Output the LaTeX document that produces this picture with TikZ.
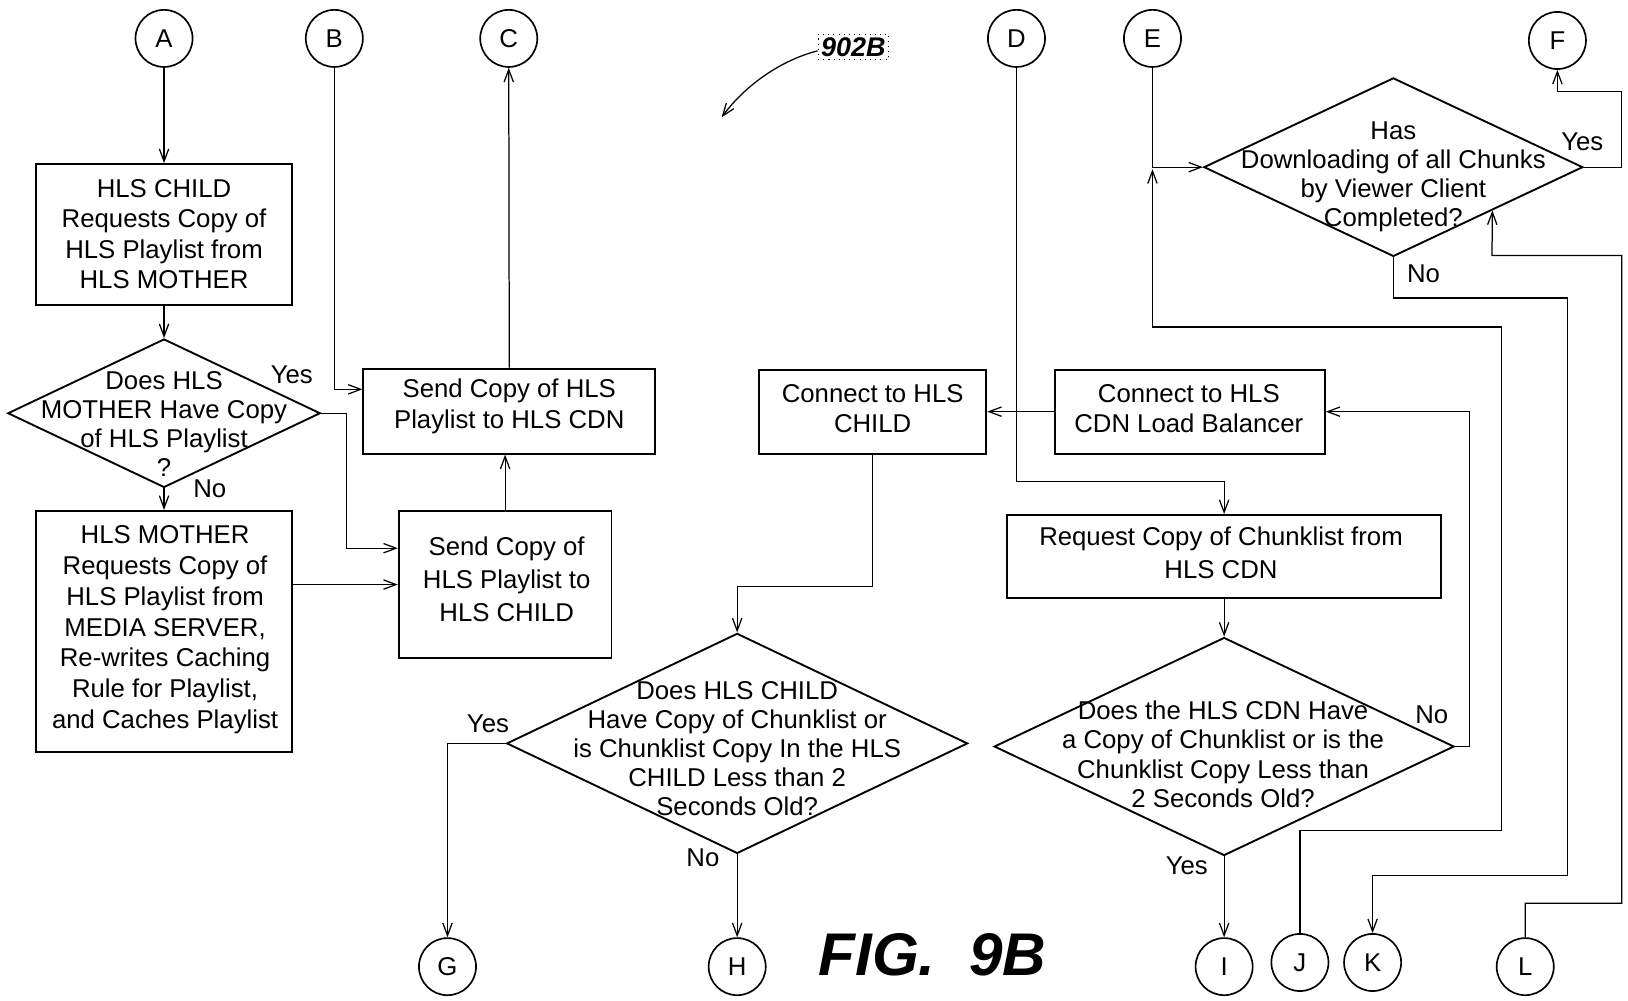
\documentclass[tikz,border=0pt]{standalone}
\usepackage{fontspec}
\setmainfont{Liberation Sans}
\usetikzlibrary{arrows.meta,fit,calc,shapes.geometric}
\begin{document}
\begin{tikzpicture}[x=0.5pt,y=-0.5pt,
  every node/.style={font=\fontsize{12.4}{14.6}\selectfont},
  box/.style={draw,line width=0.9pt,inner sep=0pt},
  btext/.style={align=center,inner sep=0pt},
  dia/.style={draw,diamond,line width=0.9pt,inner sep=0pt},
  dtext/.style={align=center,inner sep=0pt,font=\fontsize{12.4}{14}\selectfont},
  conn/.style={draw,circle,line width=0.8pt,minimum size=27.5pt,inner sep=0pt},
  arr/.style={line width=0.6pt,-{Straight Barb[length=6pt,width=4.5pt]}},
  lab/.style={inner sep=0pt}
]
\useasboundingbox (0,0) rectangle (1568,964);

% connectors (circles)
\node[conn] (A) at (158,37) {A};
\node[conn] (B) at (322,37) {B};
\node[conn] (C) at (490,37) {C};
\node[conn] (D) at (979,37) {D};
\node[conn] (E) at (1110,37) {E};
\node[conn] (F) at (1500,39) {F};
\node[conn] (G) at (431,931) {G};
\node[conn] (H) at (710,931) {H};
\node[conn] (I) at (1179,931) {I};
\node[conn] (J) at (1252,927) {J};
\node[conn] (K) at (1322,927) {K};
\node[conn] (L) at (1469,931) {L};

% boxes
\node[box,fit={(35,158)(281,294)}] (b1) {};
\node[btext,font=\fontsize{12.4}{14.5}\selectfont] (b1t) at (158,225.5) {HLS CHILD\\Requests Copy of\\HLS Playlist from\\HLS MOTHER};
\node[box,fit={(35,492)(281,724)}] (mother) {};
\node[btext,font=\fontsize{12.4}{14.9}\selectfont] (mothert) at (159,606.5) {HLS MOTHER\\Requests Copy of\\HLS Playlist from\\MEDIA SERVER,\\Re-writes Caching\\Rule for Playlist,\\and Caches Playlist};
\node[box,fit={(350,355)(631,437)}] (scdn) {};
\node[btext] (scdnt) at (490.5,391.5) {Send Copy of HLS\\Playlist to HLS CDN};
\node[box,fit={(384,492)(589,634)}] (schild) {};
\node[btext,font=\fontsize{12.4}{16}\selectfont] (schildt) at (488,558) {Send Copy of\\HLS Playlist to\\HLS CHILD};
\node[box,fit={(731,356)(950,437)}] (cchild) {};
\node[btext] (cchildt) at (840.5,393.5) {Connect to HLS\\CHILD};
\node[box,fit={(1016,356)(1276,437)}] (clb) {};
\node[btext] (clbt) at (1145,393.5) {Connect to HLS\\CDN Load Balancer};
\node[box,fit={(970,496)(1388,576)}] (req) {};
\node[btext,font=\fontsize{12.4}{15.5}\selectfont] (reqt) at (1176,532.5) {Request Copy of Chunklist from\\HLS CDN};

% diamonds
\node[dia,minimum width=150.5pt,minimum height=71.5pt] (d1) at (158,398) {};
\node[dtext] (d1t) at (158,408.5) {Does HLS\\MOTHER Have Copy\\of HLS Playlist\\?};
\node[dia,minimum width=222pt,minimum height=106pt] (d2) at (710,716) {};
\node[dtext] (d2t) at (710,721) {Does HLS CHILD\\Have Copy of Chunklist or\\is Chunklist Copy In the HLS\\CHILD Less than 2\\Seconds Old?};
\node[dia,minimum width=221.5pt,minimum height=105pt] (d3) at (1179,719) {};
\node[dtext] (d3t) at (1178,726.5) {Does the HLS CDN Have\\a Copy of Chunklist or is the\\Chunklist Copy Less than\\2 Seconds Old?};
\node[dia,minimum width=182.5pt,minimum height=86pt] (d4) at (1342,161) {};
\node[dtext] (d4t) at (1342,170.5) {Has\\Downloading of all Chunks\\by Viewer Client\\Completed?};

% yes/no labels
\node[lab] (y1) at (281,361) {Yes};
\node[lab] (n1) at (202,471) {No};
\node[lab] (y2) at (470,697) {Yes};
\node[lab] (n2) at (677,826) {No};
\node[lab] (n3) at (1379,688) {No};
\node[lab] (y3) at (1143,834) {Yes};
\node[lab] (y4) at (1524,137) {Yes};
\node[lab] (n4) at (1371,264) {No};

% reference numeral and figure label
\node[draw,dotted,line width=0.5pt,inner sep=1.5pt,font=\fontsize{13}{15}\selectfont\bfseries\itshape] (ref) at (822,45) {902B};
\coordinate (reftip) at (695,113);
\draw[arr] ([yshift=-2pt]ref.west) .. controls (752,58) and (718,82) .. (reftip);
\node[font=\fontsize{29}{34}\selectfont\bfseries\itshape] (fig) at (898,920) {FIG.\ \ 9B};

% flow lines
\draw[arr] (A.south) -- (A.south |- b1.north);
\draw[arr] (b1.south) -- (d1.north);
\draw[arr] (d1.south) -- (mother.north);
\draw[arr] (d1.east) -- (334,398) |- ($(schild.west)+(0,-35)$);
\draw[arr] (mother.east |- schild.west) -- (schild.west);
\draw[arr] (B.south) |- ($(scdn.west)+(0,-21)$);
\draw[arr] (schild.north) -- (schild.north |- scdn.south);
\draw[arr] (scdn.north) -- (C.south);
\draw[arr] (D.south) |- ($(req.north)+(0,-31)$) -- (req.north);
\draw[arr] (clb.west) -- (cchild.east);
\draw[arr] (cchild.south) |- ($(d2.north)+(0,-44)$) -- (d2.north);
\draw[arr] (d2.west) -| (G.north);
\draw[arr] (d2.south) -- (H.north);
\draw[arr] (req.south) -- (d3.north);
\draw[arr] (d3.east) -- ++(14,0) |- (clb.east);
\draw[arr] (d3.south) -- (I.north);
\coordinate (ej) at (E.south |- d4.west);
\draw[arr] (E.south) -- (ej) -- (d4.west);
\draw[arr] (J.north) |- (1446,800) |- (1110,315) -- ([yshift=-1pt]ej);
\draw[arr] (d4.east) -| (1562,88) -| (F.south);
\draw[arr] (d4.south) |- (1510,287) |- (1322,843) -- (K.north);
\draw[arr] (L.north) |- (1562,870) |- (1437,246) -- ($(d4.east)!0.48!(d4.south)$);
\end{tikzpicture}
\end{document}
